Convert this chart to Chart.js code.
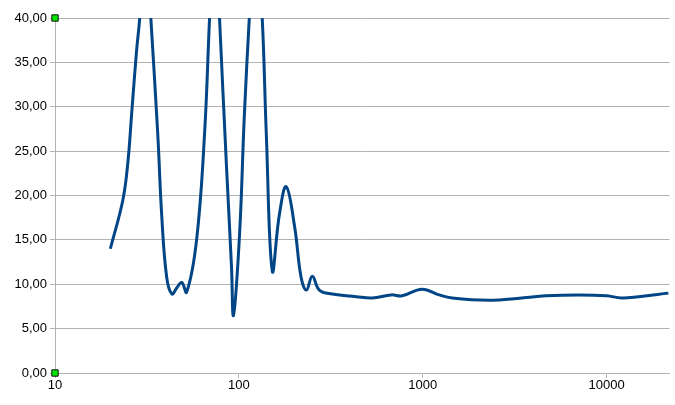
<!DOCTYPE html>
<html>
<head>
<meta charset="utf-8">
<script src="https://cdn.jsdelivr.net/npm/chart.js@4"></script>
<style>
  html, body { margin: 0; padding: 0; background: #fff; }
  #wrap { width: 675px; height: 405px; }
</style>
</head>
<body>
<div id="wrap"><canvas id="chart"></canvas></div>
<script>
const freqs = [20, 23.4, 24.9, 26.2, 27.8, 28.9, 31, 33.2, 36.2, 38.1, 40.5, 43.2, 46, 48.9, 52,
  58.9, 65.1, 69.3, 74, 78.5, 85.7, 91.2, 93.5, 101, 107, 114, 123, 134, 141, 152, 166,
  181, 201, 218, 233, 251, 274, 322, 435, 531, 674, 773, 993, 1228, 1445, 2290, 3459,
  4667, 7063, 10000, 12080, 14920, 21700];
const values = [14.0, 19.5, 23.7, 29.6, 36.4, 40, 50, 40, 27, 17.6, 10.8, 8.9, 9.6, 10.2, 9.1,
  15, 27, 40, 52, 40, 23.2, 12, 6.5, 15.8, 28.8, 40, 52, 40, 27, 11.5, 17.8,
  21.0, 16.5, 10.8, 9.35, 10.9, 9.35, 8.9, 8.6, 8.45, 8.8, 8.7, 9.45, 8.8, 8.45, 8.2,
  8.45, 8.7, 8.8, 8.7, 8.45, 8.6, 9.0];
const xTicks = [10, 100, 1000, 10000];
const markerY = [0, 40];

new Chart(document.getElementById('chart'), {
    type: 'line',
    data: {
        datasets: [{
            data: freqs.map((f, i) => ({ x: f, y: values[i] })),
            borderColor: '#004586',
            borderWidth: 3,
            pointRadius: 0,
            tension: 0.4,
            fill: false
        }, {
            data: markerY.map(v => ({ x: 10, y: v })),
            showLine: false,
            pointStyle: 'rect',
            pointRadius: 4.5,
            pointBackgroundColor: '#00e600',
            pointBorderColor: '#111',
            pointBorderWidth: 1,
            clip: false
        }]
    },
    options: {
        responsive: true,
        maintainAspectRatio: false,
        animation: false,
        layout: { padding: { top: 18, right: 2 } },
        plugins: { legend: { display: false }, tooltip: { enabled: false } },
        scales: {
            x: {
                type: 'logarithmic',
                min: 10,
                max: 22000,
                afterBuildTicks: s => { s.ticks = xTicks.map(v => ({ value: v })); },
                afterFit: s => { s.height = 32; },
                grid: { drawOnChartArea: false, color: '#b3b3b3', tickLength: 5 },
                border: { color: '#b3b3b3' },
                ticks: {
                    color: '#000',
                    font: { family: 'Liberation Sans', size: 13 },
                    padding: 0,
                    maxRotation: 0,
                    callback: v => String(v)
                }
            },
            y: {
                min: 0,
                max: 40,
                afterFit: s => { s.width = 55; },
                grid: { color: '#b3b3b3', tickLength: 5 },
                border: { color: '#b3b3b3' },
                ticks: {
                    stepSize: 5,
                    color: '#000',
                    font: { family: 'Liberation Sans', size: 13 },
                    padding: 3,
                    callback: v => v.toFixed(2).replace('.', ',')
                }
            }
        }
    }
});
</script>
</body>
</html>
